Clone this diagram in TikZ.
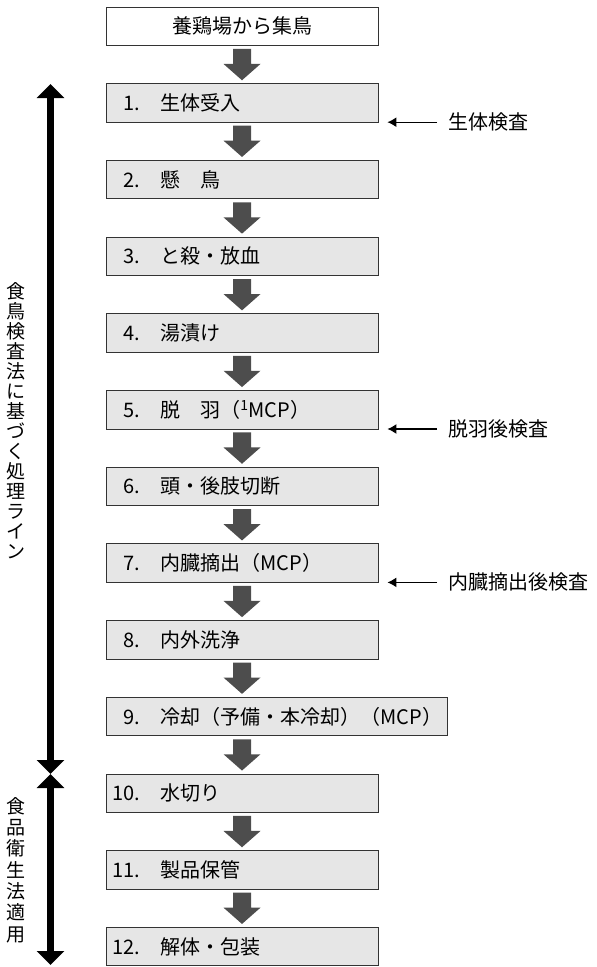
\documentclass[tikz,border=0pt]{standalone}
\usepackage{fontspec}
\newfontfamily\cjk{Noto Sans CJK JP}
\usetikzlibrary{calc,arrows.meta}
\definecolor{boxfill}{HTML}{E6E6E6}
\definecolor{boxline}{HTML}{333333}
\definecolor{arrgray}{HTML}{4D4D4D}
\newcommand\fatarr[2]{%
  \fill[arrgray] ($(#1)+(-9,3)$) -- ($(#1)+(9,3)$) -- ($(#1)+(9,18)$) -- ($(#1)+(18.5,18)$)
    -- ($(#2)+(0,-3)$) -- ($(#1)+(-18.5,18)$) -- ($(#1)+(-9,18)$) -- cycle;}
\begin{document}
\begin{tikzpicture}[x=1pt,y=-1pt,
  stepbox/.style={draw=boxline, fill=boxfill, line width=0.9pt, minimum width=272pt, minimum height=38.5pt, inner sep=0pt},
  steptext/.style={anchor=west, inner sep=0pt, text=black, font=\cjk\fontsize{20}{24}\selectfont},
  inspect/.style={anchor=west, inner xsep=11pt, inner ysep=0pt, font=\cjk\fontsize{20}{24}\selectfont},
  sidetext/.style={align=center, inner sep=0pt},
  thinarr/.style={line width=1.2pt, -{Latex[length=9pt,width=10pt]}},
  bigarr/.style={line width=6.5pt, {Triangle[length=14pt,width=27pt]}-{Triangle[length=14pt,width=27pt]}}
]
\useasboundingbox (0,0) rectangle (597,967);

% boxes
\node[stepbox, fill=white, font=\cjk\fontsize{20}{24}\selectfont] (b0) at (242,26.25) {養鶏場から集鳥};
\node[stepbox] (b1) at (242,102.95) {};
\node[stepbox] (b2) at (242,179.65) {};
\node[stepbox] (b3) at (242,256.35) {};
\node[stepbox] (b4) at (242,333.05) {};
\node[stepbox] (b5) at (242,409.75) {};
\node[stepbox] (b6) at (242,486.45) {};
\node[stepbox] (b7) at (242,563.15) {};
\node[stepbox] (b8) at (242,639.85) {};
\node[stepbox, minimum width=341pt] (b9) at (276.5,716.55) {};
\node[stepbox] (b10) at (242,793.25) {};
\node[stepbox] (b11) at (242,869.95) {};
\node[stepbox] (b12) at (242,946.65) {};

% box texts
\node[steptext] (t1) at ([xshift=18pt]b1.west) {1.　生体受入};
\node[steptext] (t2) at ([xshift=18pt]b2.west) {2.　懸　鳥};
\node[steptext] (t3) at ([xshift=18pt]b3.west) {3.　と殺・放血};
\node[steptext] (t4) at ([xshift=18pt]b4.west) {4.　湯漬け};
\node[steptext] (t5) at ([xshift=18pt]b5.west) {5.　脱　羽（\textsuperscript{1}MCP）};
\node[steptext] (t6) at ([xshift=18pt]b6.west) {6.　頭・後肢切断};
\node[steptext] (t7) at ([xshift=18pt]b7.west) {7.　内臓摘出（MCP）};
\node[steptext] (t8) at ([xshift=18pt]b8.west) {8.　内外洗浄};
\node[steptext] (t9) at ([xshift=18pt]b9.west) {9.　冷却（予備・本冷却）（MCP）};
\node[steptext] (t10) at ([xshift=7pt]b10.west) {10.　水切り};
\node[steptext] (t11) at ([xshift=7pt]b11.west) {11.　製品保管};
\node[steptext] (t12) at ([xshift=7pt]b12.west) {12.　解体・包装};

% fat flow arrows
\fatarr{b0.south}{b1.north}
\fatarr{b1.south}{b2.north}
\fatarr{b2.south}{b3.north}
\fatarr{b3.south}{b4.north}
\fatarr{b4.south}{b5.north}
\fatarr{b5.south}{b6.north}
\fatarr{b6.south}{b7.north}
\fatarr{b7.south}{b8.north}
\fatarr{b8.south}{b8.south |- b9.north}
\fatarr{b10.north |- b9.south}{b10.north}
\fatarr{b10.south}{b11.north}
\fatarr{b11.south}{b12.north}

% inspection labels
\node[inspect] (l1) at (437,122.2) {生体検査};
\node[inspect] (l5) at (437,429) {脱羽後検査};
\node[inspect] (l7) at (437,582.4) {内臓摘出後検査};
\coordinate (c1) at ($(b1.south east)+(9,0)$);
\coordinate (c5) at ($(b5.south east)+(9,0)$);
\coordinate (c7) at ($(b7.south east)+(9,0)$);
\draw[thinarr] (l1.west) -- (l1.west -| c1);
\draw[thinarr] (l5.west) -- (l5.west -| c5);
\draw[thinarr] (l7.west) -- (l7.west -| c7);

% vertical range arrows
\coordinate (vtop) at (50.5,84);
\coordinate (vmid) at (50.5,774);
\coordinate (vbot) at (50.5,965);
\draw[bigarr] (vtop) -- (vmid);
\draw[bigarr] (vmid) -- (vbot);

% side texts
\node[sidetext, font=\cjk\fontsize{19}{20}\selectfont] (v1) at (16,421)
  {食\\鳥\\検\\査\\法\\に\\基\\づ\\く\\処\\理\\ラ\\イ\\ン};
\node[sidetext, font=\cjk\fontsize{19}{21.3}\selectfont] (v2) at (16,870)
  {食\\品\\衛\\生\\法\\適\\用};
\end{tikzpicture}
\end{document}
